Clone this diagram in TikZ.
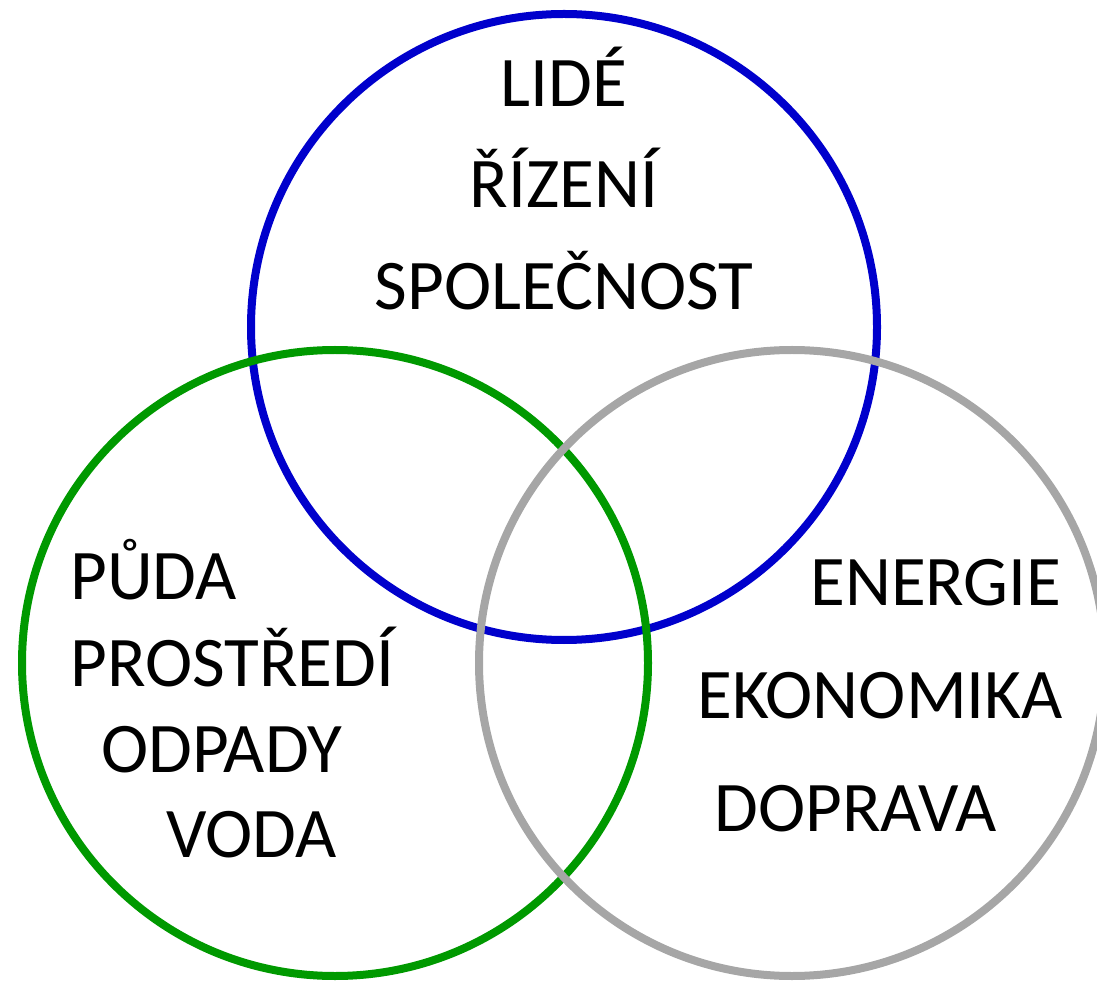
\documentclass[tikz,border=0pt]{standalone}
\usepackage{fontspec}
\setmainfont{Carlito}
\definecolor{venblue}{HTML}{0000CC}
\definecolor{vengreen}{HTML}{009900}
\definecolor{vengray}{HTML}{A6A6A6}
\begin{document}
\begin{tikzpicture}[
    x=0.5pt,y=-0.5pt,
    ring/.style={line width=4pt},
    word/.style={inner sep=0pt,font=\fontsize{35.6}{43}\selectfont}]
\useasboundingbox (0,0) rectangle (1097,983);
\coordinate (lidec) at (564,327);
\coordinate (pudac) at (335,663);
\coordinate (enerc) at (792,663);
% kruhy
\draw[ring,venblue] (lidec) circle[radius=313];
\draw[ring,vengreen] (pudac) circle[radius=313];
\draw[ring,vengray] (enerc) circle[radius=313];
% horni kruh
\node[word,anchor=base] (lide) at (564,107) {LIDÉ};
\node[word,anchor=base] (rizeni) at (564,208) {ŘÍZENÍ};
\node[word,anchor=base] (spolecnost) at (564,310) {SPOLEČNOST};
% levy kruh
\node[word,anchor=base west] (puda) at (70,599) {PŮDA};
\node[word,anchor=base west] (prostredi) at (70,686) {PROSTŘEDÍ};
\node[word,anchor=base west] (odpady) at (101,772) {ODPADY};
\node[word,anchor=base west] (voda) at (166,857) {VODA};
% pravy kruh
\node[word,anchor=base west] (energie) at (810,605) {ENERGIE};
\node[word,anchor=base west] (ekonomika) at (697,718) {EKONOMIKA};
\node[word,anchor=base west] (doprava) at (714,831) {DOPRAVA};
\end{tikzpicture}
\end{document}
